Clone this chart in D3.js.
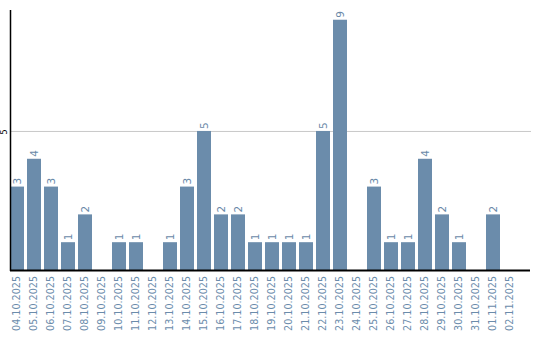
<!DOCTYPE html>
<html>
<head>
<meta charset="utf-8">
<script src="https://cdn.jsdelivr.net/npm/d3@7"></script>
<style>
body{margin:0;background:#fff}
svg{display:block;font-family:"DejaVu Sans",sans-serif}
</style>
</head>
<body>
<svg id="canvas" width="540" height="340"></svg>
<script>
let dates=["04.10.2025","05.10.2025","06.10.2025","07.10.2025","08.10.2025","09.10.2025","10.10.2025","11.10.2025","12.10.2025","13.10.2025","14.10.2025","15.10.2025","16.10.2025","17.10.2025","18.10.2025","19.10.2025","20.10.2025","21.10.2025","22.10.2025","23.10.2025","24.10.2025","25.10.2025","26.10.2025","27.10.2025","28.10.2025","29.10.2025","30.10.2025","31.10.2025","01.11.2025","02.11.2025"]
let counts=[3,4,3,1,2,0,1,1,0,1,3,5,2,2,1,1,1,1,5,9,0,3,1,1,4,2,1,0,2,0]
let yticks=[5]

let canvas=d3.select("#canvas")
const barcolor="#6b8cab"

let x=d3.scaleBand()
        .domain(dates)
        .range([10,517])
        .paddingInner(3/17)
        .paddingOuter(0)
let y=d3.scaleLinear()
        .domain([0,9.35])
        .range([270,10])

// grid line
canvas.selectAll(".grid")
      .data(yticks)
      .enter()
      .append("line")
      .attr("x1",10)
      .attr("x2",531)
      .attr("y1",d=>y(d)+0.5)
      .attr("y2",d=>y(d)+0.5)
      .attr("stroke","#c8c8c8")
      .attr("stroke-width",1)

let data=dates.map((d,i)=>({date:d,value:counts[i]}))

canvas.selectAll("rect")
      .data(data.filter(d=>d.value>0))
      .enter()
      .append("rect")
      .attr("x",d=>x(d.date))
      .attr("y",d=>y(d.value))
      .attr("width",x.bandwidth())
      .attr("height",d=>y(0)-y(d.value))
      .attr("fill",barcolor)

// value labels
canvas.selectAll(".val")
      .data(data.filter(d=>d.value>0))
      .enter()
      .append("text")
      .attr("transform",d=>`translate(${x(d.date)+x.bandwidth()/2+4},${y(d.value)-2}) rotate(-90)`)
      .attr("font-size",10.5)
      .attr("fill","#6a89a8")
      .text(d=>d.value)

// x axis
const xaxis=d3.axisBottom(x).tickSize(0).tickPadding(0)
let gx=canvas.append("g").attr("transform","translate(0,270)").call(xaxis)
gx.select(".domain").remove()
gx.selectAll("text")
  .attr("transform","rotate(-90)")
  .attr("text-anchor","end")
  .attr("x",-6)
  .attr("y",0)
  .attr("dy","0.35em")
  .attr("font-size",9.6)
  .attr("font-family","DejaVu Sans")
  .attr("fill","#6b8cab")

canvas.append("line")
      .attr("x1",10).attr("x2",530)
      .attr("y1",y(0)+0.5).attr("y2",y(0)+0.5)
      .attr("stroke","#000").attr("stroke-width",2)

// y axis
canvas.append("line")
      .attr("x1",10.5).attr("x2",10.5)
      .attr("y1",10).attr("y2",271)
      .attr("stroke","#000").attr("stroke-width",1.5)
canvas.selectAll(".ytick")
      .data(yticks)
      .enter()
      .append("text")
      .attr("transform",d=>`translate(7,${y(d)+1}) rotate(-90)`)
      .attr("text-anchor","middle")
      .attr("font-size",8)
      .attr("fill","#000")
      .text(d=>d)
</script>
</body>
</html>
